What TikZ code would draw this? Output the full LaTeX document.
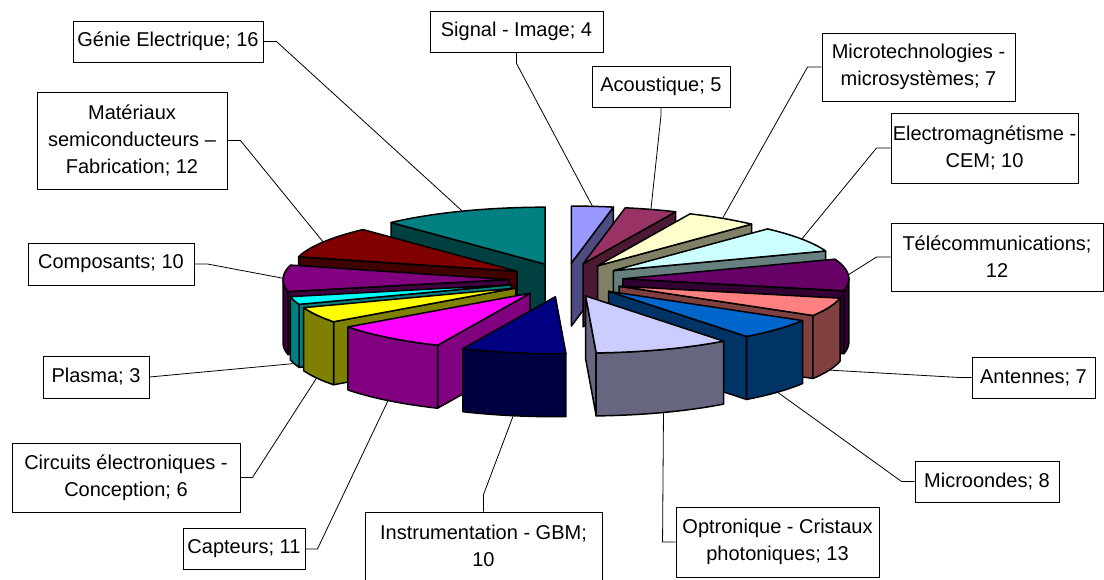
\documentclass[tikz,border=0pt]{standalone}
\usepackage{fontspec}
\setmainfont{Liberation Sans}

\definecolor{cSig}{HTML}{9999FF}
\definecolor{cAco}{HTML}{993366}
\definecolor{cMic}{HTML}{FFFFCC}
\definecolor{cEle}{HTML}{CCFFFF}
\definecolor{cTel}{HTML}{660066}
\definecolor{cAnt}{HTML}{FF8080}
\definecolor{cMio}{HTML}{0066CC}
\definecolor{cOpt}{HTML}{CCCCFF}
\definecolor{cIns}{HTML}{000080}
\definecolor{cCap}{HTML}{FF00FF}
\definecolor{cCir}{HTML}{FFFF00}
\definecolor{cPla}{HTML}{00FFFF}
\definecolor{cCom}{HTML}{800080}
\definecolor{cMat}{HTML}{800000}
\definecolor{cGen}{HTML}{008080}

\tikzset{
  topface/.style={fill=#1, draw=black, line width=1.5pt, line join=round},
  sideface/.style={fill=#1!50!black, draw=black, line width=1.5pt, line join=round},
  lbl/.style={draw, line width=0.9pt, fill=white, align=center, inner sep=0pt,
    font=\fontsize{20}{27}\selectfont},
  leader/.style={line width=0.8pt}
}

% one exploded slice: #1 start, #2 end (out of 134), #3 colour, #4 name
\newcommand{\pieslice}[4]{%
  \pgfmathsetmacro{\slS}{#1*2.6865672}%
  \pgfmathsetmacro{\slE}{#2*2.6865672}%
  \pgfmathsetmacro{\slM}{(\slS+\slE)/2}%
  \pgfmathsetmacro{\slX}{566+57*sin(\slM)}%
  \pgfmathsetmacro{\slY}{280-17*cos(\slM)}%
  \coordinate (#4) at (\slX,\slY);
  \coordinate (#4-top) at ({\slX+226*sin(\slM)},{\slY-57*cos(\slM)});
  \coordinate (#4-bot) at ({\slX+226*sin(\slM)},{\slY+63-57*cos(\slM)});
  % cut faces
  \pgfmathtruncatemacro{\slF}{sin(\slS) < -0.01}%
  \ifnum\slF=1
    \filldraw[sideface=#3] (#4) -- ++({226*sin(\slS)},{-57*cos(\slS)}) -- ++(0,63) -- (\slX,{\slY+63}) -- cycle;
  \fi
  \pgfmathtruncatemacro{\slF}{sin(\slE) > 0.01}%
  \ifnum\slF=1
    \filldraw[sideface=#3] (#4) -- ++({226*sin(\slE)},{-57*cos(\slE)}) -- ++(0,63) -- (\slX,{\slY+63}) -- cycle;
  \fi
  % outer side
  \pgfmathsetmacro{\slA}{max(\slS,90)}%
  \pgfmathsetmacro{\slB}{min(\slE,270)}%
  \pgfmathtruncatemacro{\slF}{\slB > \slA+0.01}%
  \ifnum\slF=1
    \filldraw[sideface=#3] plot[domain=\slA:\slB, samples=25, variable=\t] ({\slX+226*sin(\t)},{\slY-57*cos(\t)})
      -- plot[domain=\slA:\slB, samples=25, variable=\t] ({\slX+226*sin(\slA+\slB-\t)},{\slY+63-57*cos(\slA+\slB-\t)}) -- cycle;
  \fi
  % top
  \filldraw[topface=#3] (#4) -- plot[domain=\slS:\slE, samples=30, variable=\t] ({\slX+226*sin(\t)},{\slY-57*cos(\t)}) -- cycle;
}

\begin{document}
\begin{tikzpicture}[x=1pt, y=-1pt]
    \useasboundingbox (0,0) rectangle (1104,579);

    % Slices, back to front
    \pieslice{0}{4}{cSig}{sig}
    \pieslice{4}{9}{cAco}{aco}
    \pieslice{118}{134}{cGen}{gen}
    \pieslice{9}{16}{cMic}{mic}
    \pieslice{16}{26}{cEle}{ele}
    \pieslice{106}{118}{cMat}{mat}
    \pieslice{26}{38}{cTel}{tel}
    \pieslice{96}{106}{cCom}{com}
    \pieslice{93}{96}{cPla}{pla}
    \pieslice{38}{45}{cAnt}{ant}
    \pieslice{87}{93}{cCir}{cir}
    \pieslice{45}{53}{cMio}{mio}
    \pieslice{76}{87}{cCap}{cap}
    \pieslice{53}{66}{cOpt}{opt}
    \pieslice{66}{76}{cIns}{ins}

    % Labels
    \node[lbl, minimum width=173pt, minimum height=41pt] (lSig) at (516.5,31.5) {Signal - Image; 4};
    \node[lbl, minimum width=138pt, minimum height=41pt] (lAco) at (661,86.5) {Acoustique; 5};
    \node[lbl, minimum width=193pt, minimum height=68pt] (lMic) at (918.5,67) {Microtechnologies -\\microsystèmes; 7};
    \node[lbl, minimum width=187pt, minimum height=70pt] (lEle) at (984.5,148) {Electromagnétisme -\\CEM; 10};
    \node[lbl, minimum width=212pt, minimum height=68pt] (lTel) at (997,257) {Télécommunications;\\12};
    \node[lbl, minimum width=123pt, minimum height=41pt] (lAnt) at (1033.5,377.5) {Antennes; 7};
    \node[lbl, minimum width=144pt, minimum height=41pt] (lMio) at (987,481.5) {Microondes; 8};
    \node[lbl, minimum width=203pt, minimum height=70pt] (lOpt) at (777.5,542) {Optronique - Cristaux\\photoniques; 13};
    \node[lbl, minimum width=237pt, minimum height=68pt] (lIns) at (483.5,546) {Instrumentation - GBM;\\10};
    \node[lbl, minimum width=122pt, minimum height=41pt] (lCap) at (244,549) {Capteurs; 11};
    \node[lbl, minimum width=228pt, minimum height=69pt] (lCir) at (126,477.5) {Circuits électroniques -\\Conception; 6};
    \node[lbl, minimum width=106pt, minimum height=42pt] (lPla) at (96,377) {Plasma; 3};
    \node[lbl, minimum width=166pt, minimum height=42pt] (lCom) at (111,264) {Composants; 10};
    \node[lbl, minimum width=190pt, minimum height=97pt] (lMat) at (132,140.5) {Matériaux\\semiconducteurs –\\Fabrication; 12};
    \node[lbl, minimum width=190pt, minimum height=41pt] (lGen) at (168,41.5) {Génie Electrique; 16};

    % Leader lines
    \draw[leader] (lSig.south) -- ++(0,11) -- (sig-top);
    \draw[leader] (lAco.south) -- ++(0,8) -- (aco-top);
    \draw[leader] (lMic.west) -- ++(-14,0) -- (mic-top);
    \draw[leader] (lEle.west) -- ++(-14,0) -- (ele-top);
    \draw[leader] (lTel.west) -- ++(-14,0) -- (tel-top);
    \draw[leader] (lAnt.west) -- ++(-12,0) -- (ant-bot);
    \draw[leader] (lMio.west) -- ++(-13,0) -- (mio-bot);
    \draw[leader] (lOpt.west) -- ++(-13,0) -- (opt-bot);
    \draw[leader] (lIns.north) -- ++(0,-17) -- (ins-bot);
    \draw[leader] (lCap.east) -- ++(12,0) -- (cap-bot);
    \draw[leader] (lCir.east) -- ++(12,0) -- (cir-bot);
    \draw[leader] (lPla.east) -- (pla-bot);
    \draw[leader] (lCom.east) -- ++(13,0) -- (com-top);
    \draw[leader] (lMat.east) -- ++(13,0) -- (mat-top);
    \draw[leader] (lGen.east) -- ++(13,0) -- (gen-top);
\end{tikzpicture}
\end{document}
